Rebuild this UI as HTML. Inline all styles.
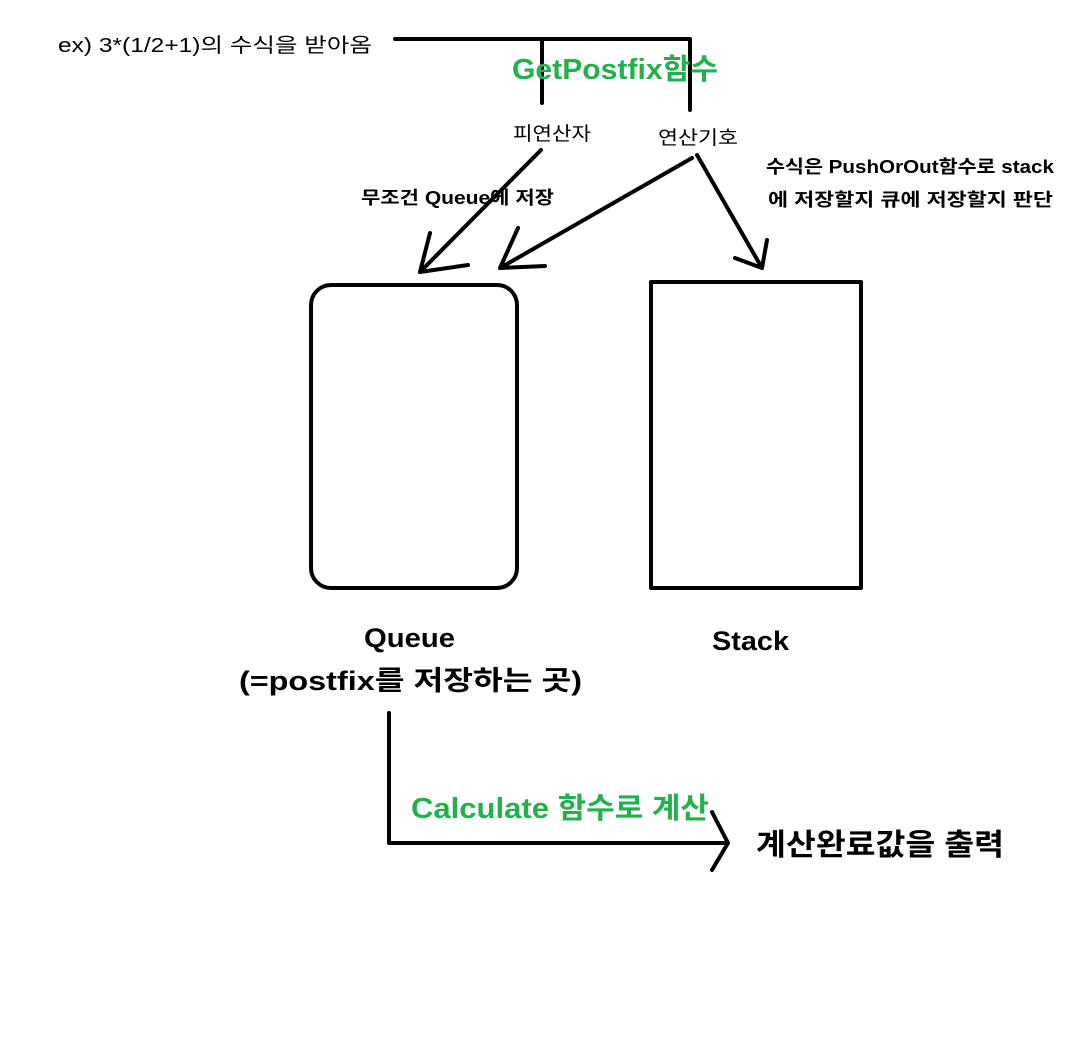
<!DOCTYPE html>
<html><head><meta charset="utf-8"><style>
html,body{margin:0;padding:0;background:#fff;}
svg{display:block;}
text{font-family:"Liberation Sans","Noto Sans CJK KR",sans-serif;}
</style></head><body>
<svg width="1086" height="1039" viewBox="0 0 1086 1039" xmlns="http://www.w3.org/2000/svg">
<g stroke="#000" stroke-width="4" fill="none" stroke-linecap="round" stroke-linejoin="round">
<path d="M395 39 H690 M542 39 V103 M690 39 V110"/>
<path d="M541 150 L420 272 M420 272 L468 265 M420 272 L430 233"/>
<path d="M692 158 L500 268 M500 268 L545 266 M500 268 L518 228"/>
<path d="M697 155 L762 268 M762 268 L767 240 M762 268 L735 258"/>
<rect x="311" y="285" width="206" height="303" rx="20"/>
<rect x="651" y="282" width="210" height="306"/>
<path d="M389 713 V843 H728 M712 812 L728 843 L712 870"/>
</g>
<text x="58" y="52" font-size="20" textLength="314" lengthAdjust="spacingAndGlyphs">ex) 3*(1/2+1)의 수식을 받아옴</text>
<text x="512" y="79" font-size="29" font-weight="bold" fill="#22b14c" textLength="206" lengthAdjust="spacingAndGlyphs">GetPostfix함수</text>
<text x="513" y="140" font-size="19" textLength="78" lengthAdjust="spacingAndGlyphs">피연산자</text>
<text x="658" y="144" font-size="19" textLength="80" lengthAdjust="spacingAndGlyphs">연산기호</text>
<text x="766" y="173" font-size="18" font-weight="bold" textLength="288" lengthAdjust="spacingAndGlyphs">수식은 PushOrOut함수로 stack</text>
<text x="768" y="206" font-size="18" font-weight="bold" textLength="285" lengthAdjust="spacingAndGlyphs">에 저장할지 큐에 저장할지 판단</text>
<text x="361" y="204" font-size="18" font-weight="bold" textLength="193" lengthAdjust="spacingAndGlyphs">무조건 Queue에 저장</text>
<text x="364" y="647" font-size="27" font-weight="bold" textLength="91" lengthAdjust="spacingAndGlyphs">Queue</text>
<text x="239" y="690" font-size="27" font-weight="bold" textLength="343" lengthAdjust="spacingAndGlyphs">(=postfix를 저장하는 곳)</text>
<text x="712" y="650" font-size="27" font-weight="bold" textLength="77" lengthAdjust="spacingAndGlyphs">Stack</text>
<text x="411" y="818" font-size="29" font-weight="bold" fill="#22b14c" textLength="298" lengthAdjust="spacingAndGlyphs">Calculate 함수로 계산</text>
<text x="756" y="855" font-size="30" font-weight="bold" textLength="248" lengthAdjust="spacingAndGlyphs">계산완료값을 출력</text>
</svg>
</body></html>
